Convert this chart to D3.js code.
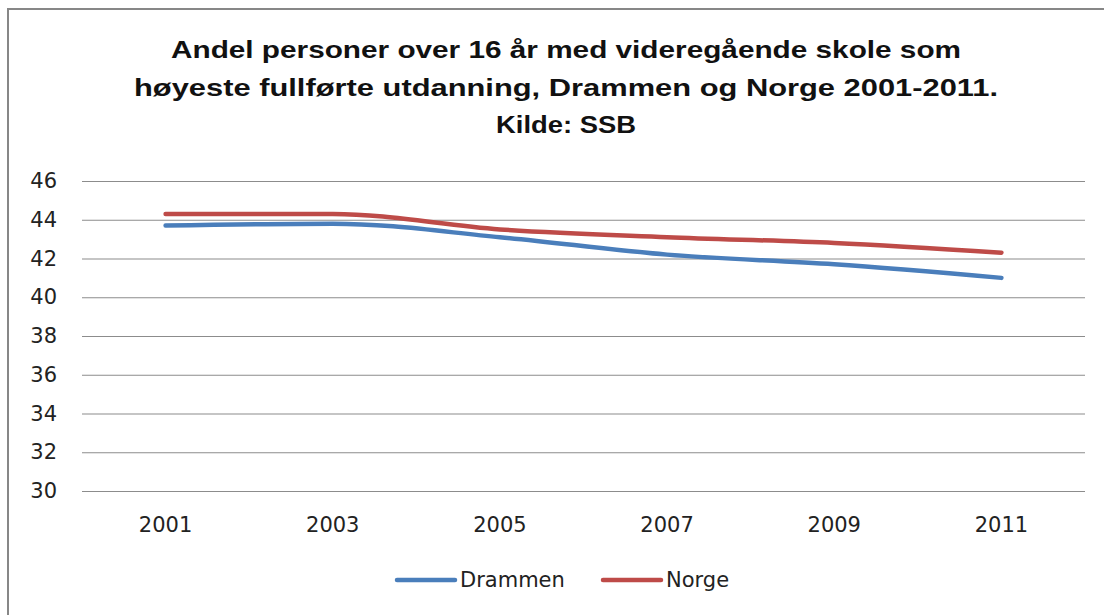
<!DOCTYPE html>
<html>
<head>
<meta charset="utf-8">
<script src="https://cdn.jsdelivr.net/npm/d3@7"></script>
<style>
  body { margin: 0; background: #fff; }
  svg text { font-family: "Liberation Sans", Arial, sans-serif; fill: #222; }
  .lbl { font-family: "DejaVu Sans", sans-serif; }
</style>
</head>
<body>
<div id="chart"></div>
<script>
// data
var years = ["2001", "2003", "2005", "2007", "2009", "2011"];
var drammen = [43.7, 43.8, 43.1, 42.2, 41.7, 41.0];
var norge = [44.3, 44.3, 43.5, 43.1, 42.8, 42.3];
var yTicks = [30, 32, 34, 36, 38, 40, 42, 44, 46];
var titleLines = [
  "Andel personer over 16 år med videregående skole som",
  "høyeste fullførte utdanning,  Drammen og Norge 2001-2011.",
  "Kilde: SSB"
];
var seriesNames = ["Drammen", "Norge"];
var colors = ["#4a7ebb", "#be4b48"];

var W = 1104, H = 615;
var plot = { left: 82, right: 1085, top: 181, bottom: 491 };

var svg = d3.select("#chart")
  .append("svg")
  .attr("width", W)
  .attr("height", H);

// chart frame (extends past right/bottom like the screenshot)
svg.append("rect")
  .attr("x", 8).attr("y", 9)
  .attr("width", W + 20).attr("height", H + 20)
  .attr("fill", "#fff")
  .attr("stroke", "#878787")
  .attr("stroke-width", 2);

// title
var titleY = [50, 88, 125];
var titleW = [790, 864, 140];
svg.append("g").selectAll("text")
  .data(titleLines)
  .enter().append("text")
  .attr("x", 566)
  .attr("y", function (d, i) { return titleY[i]; })
  .attr("dy", "0.35em")
  .attr("text-anchor", "middle")
  .attr("font-size", 24)
  .attr("font-weight", "bold")
  .attr("textLength", function (d, i) { return titleW[i]; })
  .attr("lengthAdjust", "spacingAndGlyphs")
  .style("fill", "#111")
  .text(function (d) { return d; });

var x = d3.scaleBand()
  .domain(years)
  .range([plot.left, plot.right]);

var y = d3.scaleLinear()
  .domain([30, 46])
  .range([plot.bottom, plot.top]);

// gridlines
svg.append("g")
  .attr("transform", "translate(" + plot.left + ",0)")
  .call(d3.axisLeft(y)
    .tickValues(yTicks)
    .tickSize(-(plot.right - plot.left))
    .tickFormat(""))
  .call(function (g) { g.select(".domain").remove(); })
  .selectAll("line")
  .attr("stroke", "#8c8c8c")
  .attr("stroke-width", 1.2);

// y labels
svg.append("g")
  .attr("transform", "translate(" + plot.left + ",0)")
  .call(d3.axisLeft(y).tickValues(yTicks).tickSize(0).tickPadding(25))
  .call(function (g) { g.select(".domain").remove(); })
  .selectAll("text")
  .attr("class", "lbl")
  .attr("font-size", 21)
  .style("fill", "#222");

// x labels
svg.append("g")
  .attr("transform", "translate(0," + plot.bottom + ")")
  .call(d3.axisBottom(x).tickSize(0).tickPadding(26))
  .call(function (g) { g.select(".domain").remove(); })
  .selectAll("text")
  .attr("class", "lbl")
  .attr("font-size", 21)
  .style("fill", "#222");

// lines
var line = d3.line()
  .x(function (d, i) { return x(years[i]) + x.bandwidth() / 2; })
  .y(function (d) { return y(d); })
  .curve(d3.curveMonotoneX);

[drammen, norge].forEach(function (s, k) {
  svg.append("path")
    .datum(s)
    .attr("fill", "none")
    .attr("stroke", colors[k])
    .attr("stroke-width", 4.5)
    .attr("stroke-linecap", "round")
    .attr("stroke-linejoin", "round")
    .attr("d", line);
});

// legend
var legendX = [397, 603];
var legend = svg.append("g").selectAll("g")
  .data(seriesNames)
  .enter().append("g")
  .attr("transform", function (d, i) { return "translate(" + legendX[i] + ",580)"; });

legend.append("line")
  .attr("x1", 0).attr("x2", 58)
  .attr("stroke", function (d, i) { return colors[i]; })
  .attr("stroke-width", 4.5)
  .attr("stroke-linecap", "round");

legend.append("text")
  .attr("class", "lbl")
  .attr("x", 63)
  .attr("dy", "0.35em")
  .attr("font-size", 21)
  .style("fill", "#222")
  .text(function (d) { return d; });
</script>
</body>
</html>
